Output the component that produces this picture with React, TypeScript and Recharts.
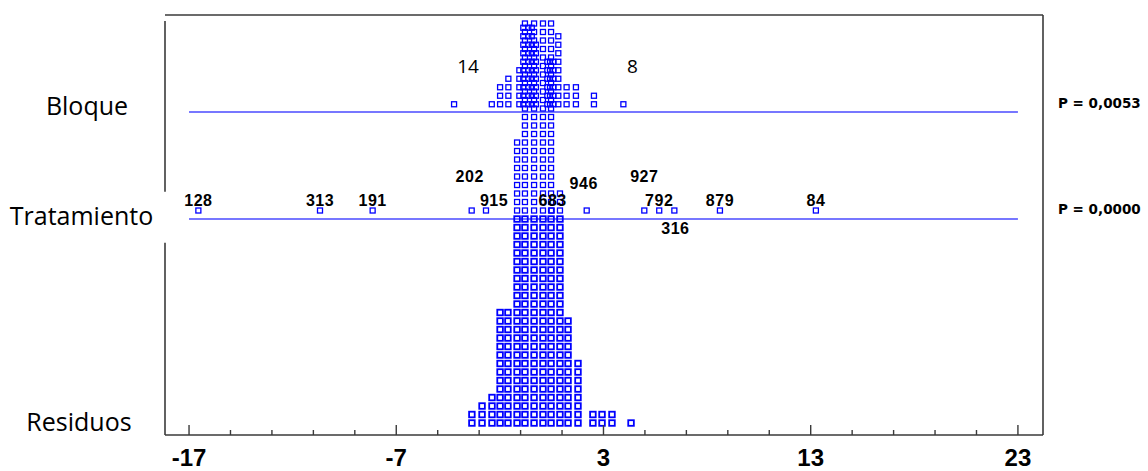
import { ScatterChart, Scatter, XAxis, YAxis, ReferenceLine } from 'recharts';

// Graphical ANOVA: block and treatment effects over the residual dot plot.
// Dots are stacked per bin; the y scale counts stack levels (one level per dot).

const X_MIN = -18.16;
const X_MAX = 24.21;
const Y_MIN = -1.41;
const Y_MAX = 48;

const AXIS_TICKS = [-17, -15, -13, -11, -9, -7, -5, -3, -1, 1, 3, 5, 7, 9, 11, 13, 15, 17, 19, 21, 23];
const AXIS_LABELS = [-17, -7, 3, 13, 23];

const ROW_NAMES = ['Residuos', 'Tratamiento', 'Bloque'];
const ROW_BASE = [0, 25, 37.5];
const ROW_LINE = [24, 36.6];
const P_VALUES = ['P = 0,0000', 'P = 0,0053'];

// residual dot plot
const RESID_BINS = [-3.35, -2.86, -2.38, -1.99, -1.61, -1.17, -0.79, -0.35, 0.08, 0.47, 0.9, 1.29, 1.77, 2.49, 2.93, 3.41, 4.33];
const RESID_COUNTS = [2, 3, 4, 14, 14, 25, 25, 25, 25, 25, 25, 13, 8, 2, 2, 2, 1];

// treatment effects
const TRAT_BINS = [-1.17, -0.79, -0.35, 0.08, 0.47, 0.9];
const TRAT_COUNTS = [9, 23, 23, 23, 23, 3];
const TRAT_TAGGED_X = [-16.55, -10.68, -8.14, -3.36, -2.67, 0.5, 2.19, 4.97, 5.69, 6.42, 8.62, 13.25];
const TRAT_TAGGED_ID = ['128', '313', '191', '202', '915', '683', '946', '927', '792', '316', '879', '84'];

// block effects
const BLOQUE_BINS = [-2.39, -1.99, -1.59, -1.06, -0.87, -0.63, -0.46, -0.26, 0.29, 0.42, 0.58, 0.82, 1.22, 1.67, 2.54];
const BLOQUE_COUNTS = [1, 3, 4, 5, 10, 10, 10, 8, 6, 6, 6, 9, 3, 3, 2];
const BLOQUE_TAGGED_X = [-4.21, 3.96];
const BLOQUE_TAGGED_ID = ['14', '8'];

const DOT_BLUE = '#0000ff';
const LINE_BLUE = '#4a4aff';
const FRAME = '#3a3a3a';

// label offsets in px, relative to the dot
const TAG_NUDGE: Record<string, [number, number]> = {
  '202': [-2, -34],
  '915': [8, -10],
  '683': [1, -10],
  '946': [-3, -27],
  '927': [0, -34],
  '316': [1, 18],
  '14': [14, -38],
  '8': [9, -38],
};
const ROW_LABEL_POS: Record<string, [number, number]> = {
  Residuos: [79, -1],
  Tratamiento: [81.5, 5.5],
  Bloque: [87, 2],
};

type Dot = { x: number; y: number; tag?: string };

function stack(bins: number[], counts: number[], base: number): Dot[] {
  const out: Dot[] = [];
  bins.forEach((x, i) => {
    for (let k = 0; k < counts[i]; k++) out.push({ x, y: base + k });
  });
  return out;
}

function tagged(xs: number[], ids: string[], base: number): Dot[] {
  return xs.map((x, i) => ({ x, y: base, tag: ids[i] }));
}

const residDots = stack(RESID_BINS, RESID_COUNTS, ROW_BASE[0]);
const tratDots = stack(TRAT_BINS, TRAT_COUNTS, ROW_BASE[1]);
const tratTagged = tagged(TRAT_TAGGED_X, TRAT_TAGGED_ID, ROW_BASE[1]);
const bloqueDots = stack(BLOQUE_BINS, BLOQUE_COUNTS, ROW_BASE[2]);
const bloqueTagged = tagged(BLOQUE_TAGGED_X, BLOQUE_TAGGED_ID, ROW_BASE[2]);

const square = (size: number, sw: number, tagFont?: React.CSSProperties) => (props: any) => {
  const { cx, cy, payload } = props;
  if (cx == null || cy == null) return <g />;
  const tag: string | undefined = payload?.tag;
  const [dx, dy] = (tag && TAG_NUDGE[tag]) || [0, -10];
  return (
    <g>
      <rect x={cx - size / 2} y={cy - size / 2} width={size} height={size} fill="none" stroke={DOT_BLUE} strokeWidth={sw} />
      {tag && (
        <text x={cx + dx} y={cy + dy} dy="0.36em" textAnchor="middle" fill="#000" style={tagFont}>
          {tag}
        </text>
      )}
    </g>
  );
};

const tratTagFont: React.CSSProperties = {
  fontFamily: '"Liberation Sans", Arial, sans-serif',
  fontWeight: 700,
  fontSize: 16,
  letterSpacing: 0.5,
};
const bloqueTagFont: React.CSSProperties = {
  fontFamily: '"Open Sans", sans-serif',
  fontSize: 19,
};

const BottomTick = (props: any) => {
  const { x, y, payload } = props;
  const major = AXIS_LABELS.includes(payload.value);
  return (
    <g>
      <line x1={x} x2={x} y1={y} y2={y - (major ? 10 : 5)} stroke={FRAME} strokeWidth={1.4} />
      {major && (
        <text
          x={x}
          y={y + 22}
          dy="0.36em"
          textAnchor="middle"
          fill="#000"
          style={{ fontFamily: '"Liberation Sans Narrow", "Liberation Sans", Arial, sans-serif', fontWeight: 700, fontSize: 24 }}
        >
          {payload.value}
        </text>
      )}
    </g>
  );
};

const TopTick = (props: any) => {
  const { x, y, payload } = props;
  const major = AXIS_LABELS.includes(payload.value);
  return <line x1={x} x2={x} y1={y} y2={y - (major ? 6 : 4)} stroke={FRAME} strokeWidth={1.4} />;
};

const RowTick = (props: any) => {
  const { y, payload } = props;
  const name = ROW_NAMES[ROW_BASE.indexOf(payload.value)];
  const [cx, dy] = ROW_LABEL_POS[name];
  return (
    <text x={cx} y={y + dy} dy="0.36em" textAnchor="middle" fill="#000" style={{ fontFamily: '"Open Sans", sans-serif', fontSize: 25 }}>
      {name}
    </text>
  );
};

const PTick = (props: any) => {
  const { x, y, payload } = props;
  const idx = ROW_BASE.indexOf(payload.value) - 1;
  return (
    <text
      x={x + 15}
      y={y - 1}
      dy="0.36em"
      textAnchor="start"
      fill="#000"
      style={{ fontFamily: '"DejaVu Sans", sans-serif', fontWeight: 700, fontSize: 13.5 }}
    >
      {P_VALUES[idx]}
    </text>
  );
};

export default function App() {
  return (
    <div style={{ position: 'absolute', left: 0, top: 0, background: '#fff' }}>
      <ScatterChart width={1148} height={471} margin={{ top: 0, right: 0, bottom: 0, left: 0 }}>
        <XAxis
          xAxisId="bottom"
          type="number"
          dataKey="x"
          domain={[X_MIN, X_MAX]}
          allowDataOverflow
          ticks={AXIS_TICKS}
          interval={0}
          height={36}
          tickSize={0}
          tickMargin={0}
          tickLine={false}
          axisLine={{ stroke: FRAME, strokeWidth: 1.6 }}
          tick={<BottomTick />}
        />
        <XAxis
          xAxisId="top"
          orientation="top"
          type="number"
          domain={[X_MIN, X_MAX]}
          allowDataOverflow
          ticks={AXIS_TICKS}
          interval={0}
          height={15}
          tickSize={0}
          tickMargin={0}
          tickLine={false}
          axisLine={{ stroke: FRAME, strokeWidth: 1.4 }}
          tick={<TopTick />}
        />
        <YAxis
          yAxisId="left"
          type="number"
          dataKey="y"
          domain={[Y_MIN, Y_MAX]}
          allowDataOverflow
          ticks={ROW_BASE}
          interval={0}
          width={165}
          tickSize={0}
          tickMargin={0}
          tickLine={false}
          axisLine={false}
          tick={<RowTick />}
        />
        <YAxis
          yAxisId="right"
          orientation="right"
          type="number"
          domain={[Y_MIN, Y_MAX]}
          allowDataOverflow
          ticks={[ROW_BASE[1], ROW_BASE[2]]}
          interval={0}
          width={105}
          tickSize={0}
          tickMargin={0}
          tickLine={false}
          axisLine={{ stroke: FRAME, strokeWidth: 1.6 }}
          tick={<PTick />}
        />

        {/* left frame, broken around the Tratamiento label */}
        <ReferenceLine xAxisId="bottom" yAxisId="left" segment={[{ x: X_MIN, y: 47.3 }, { x: X_MIN, y: 27.2 }]} stroke={FRAME} strokeWidth={1.6} />
        <ReferenceLine xAxisId="bottom" yAxisId="left" segment={[{ x: X_MIN, y: 21.2 }, { x: X_MIN, y: Y_MIN }]} stroke={FRAME} strokeWidth={1.6} />

        <Scatter name="Residuos" data={residDots} xAxisId="bottom" yAxisId="left" shape={square(5.6, 1.8)} isAnimationActive={false} />
        <Scatter name="Bloque" data={bloqueDots} xAxisId="bottom" yAxisId="left" shape={square(5, 1.3)} isAnimationActive={false} />
        <Scatter name="Tratamiento" data={tratDots} xAxisId="bottom" yAxisId="left" shape={square(5, 1.3)} isAnimationActive={false} />

        {ROW_LINE.map((y) => (
          <ReferenceLine key={y} xAxisId="bottom" yAxisId="left" segment={[{ x: -17, y }, { x: 23, y }]} stroke={LINE_BLUE} strokeWidth={1.5} />
        ))}

        <Scatter name="Tratamiento extremos" data={tratTagged} xAxisId="bottom" yAxisId="left" shape={square(5, 1.3, tratTagFont)} isAnimationActive={false} />
        <Scatter name="Bloque extremos" data={bloqueTagged} xAxisId="bottom" yAxisId="left" shape={square(5, 1.3, bloqueTagFont)} isAnimationActive={false} />
      </ScatterChart>
    </div>
  );
}
